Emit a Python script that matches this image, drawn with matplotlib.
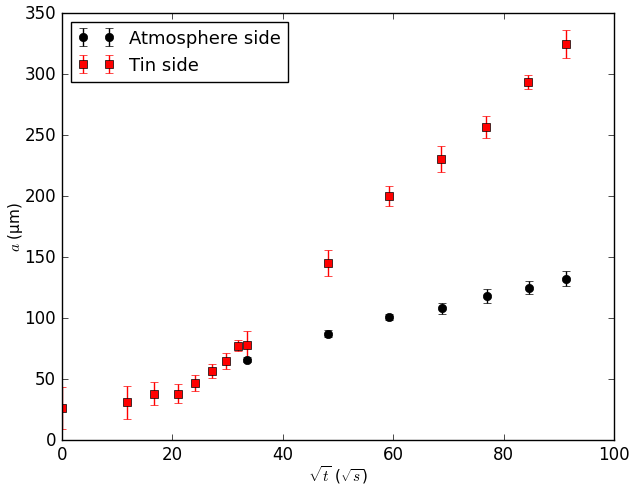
import numpy as np
import matplotlib
matplotlib.use("Agg")
from matplotlib import pyplot as plt

# sqrt(t) positions and crack half-length a (um) with uncertainties
atm_x = [33.5, 48.2, 59.3, 68.8, 76.9, 84.5, 91.3]
atm_a = [65.8, 87.0, 100.6, 107.8, 118.0, 124.9, 132.2]
atm_err = [2.0, 3.0, 2.5, 4.5, 5.7, 5.5, 6.0]

tin_x = [0.0, 11.8, 16.7, 21.0, 24.1, 27.2, 29.7, 31.9, 33.5, 48.2, 59.3, 68.7, 76.8, 84.4, 91.3]
tin_a = [26.2, 31.0, 37.7, 38.0, 46.8, 56.5, 64.5, 77.0, 78.0, 145.0, 200.0, 230.0, 256.5, 293.5, 325.0]
tin_err = [17.0, 13.5, 9.5, 8.0, 6.5, 6.0, 6.5, 4.5, 11.5, 10.5, 8.5, 10.7, 9.0, 5.5, 11.5]

plt.style.use('classic')

fig = plt.figure(figsize=(6.3, 4.85), dpi=100)
ax = fig.add_axes([0.098, 0.091, 0.877, 0.880])

ax.errorbar(atm_x, atm_a, yerr=atm_err, fmt='o', color='black', ecolor='black',
            markersize=6, capsize=3, label='Atmosphere side')
ax.errorbar(tin_x, tin_a, yerr=tin_err, fmt='s', color='red', ecolor='red',
            markeredgecolor='black', markersize=6, capsize=3, label='Tin side')

ax.set_xlim(0, 100)
ax.set_ylim(0, 350)
ax.set_xlabel(r'$\sqrt{t}$ ($\sqrt{s}$)', fontsize=11, labelpad=0)
ax.set_ylabel(r'$a$ (μm)', fontsize=11, labelpad=0)
ax.legend(loc='upper left', numpoints=2, fontsize=13)

fig.savefig('out.png', dpi=100)
